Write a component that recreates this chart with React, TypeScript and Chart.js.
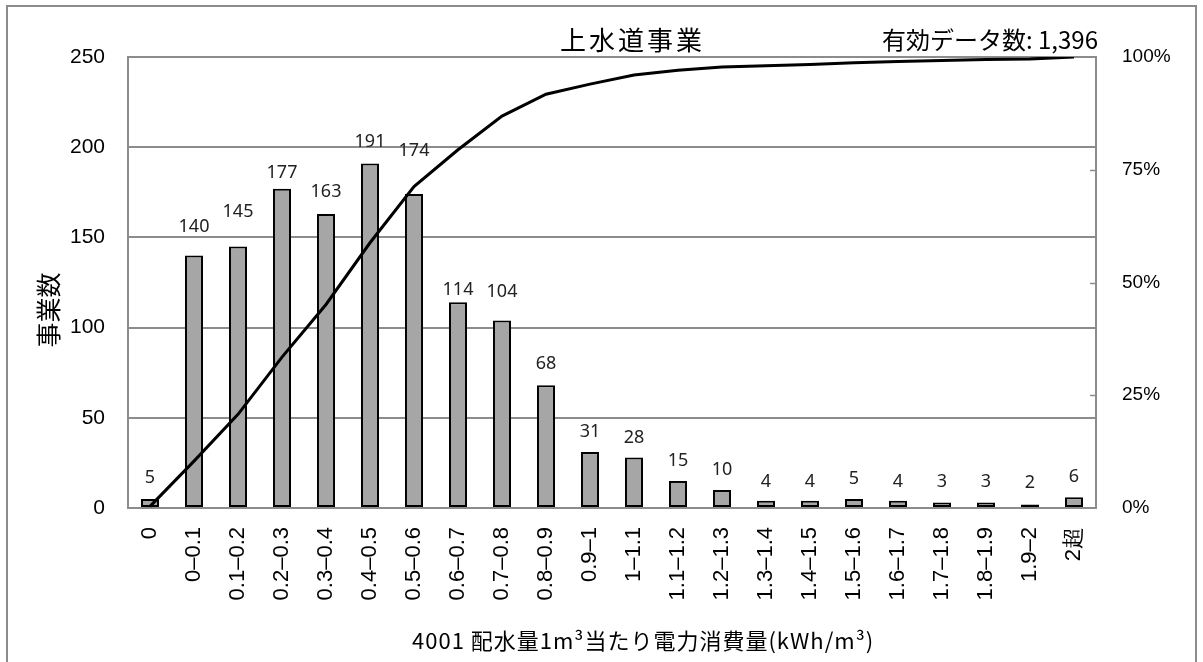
import React, { useEffect, useRef } from "react";
import { Chart, registerables } from "chart.js";

Chart.register(...registerables);

const categories = [
  "0", "0–0.1", "0.1–0.2", "0.2–0.3", "0.3–0.4", "0.4–0.5", "0.5–0.6", "0.6–0.7",
  "0.7–0.8", "0.8–0.9", "0.9–1", "1–1.1", "1.1–1.2", "1.2–1.3", "1.3–1.4", "1.4–1.5",
  "1.5–1.6", "1.6–1.7", "1.7–1.8", "1.8–1.9", "1.9–2", "2超",
];
const counts = [5, 140, 145, 177, 163, 191, 174, 114, 104, 68, 31, 28, 15, 10, 4, 4, 5, 4, 3, 3, 2, 6];
const cumulativePct = [
  0.36, 10.39, 20.77, 33.45, 45.13, 58.81, 71.28, 79.44, 86.89, 91.76, 93.98,
  95.99, 97.06, 97.78, 98.07, 98.35, 98.71, 99.0, 99.21, 99.43, 99.57, 100,
];
// where each count label sits, in left-axis units (labels were placed by hand in the source)
const labelAnchors = [16.6, 156, 164, 186, 175, 203, 198, 121, 120, 80, 42, 39, 26, 21, 14.4, 14.4, 16, 14.4, 14.4, 14.4, 13.9, 17];
const leftTicks = [0, 50, 100, 150, 200, 250];
const rightTicks = [0, 25, 50, 75, 100];

const chartTitle = "上水道事業";
const countTitle = "有効データ数: 1,396";
const yTitle = "事業数";
const xTitle = "4001 配水量1m³当たり電力消費量(kWh/m³)";

const CJK = '"Noto Sans CJK JP", "Noto Sans", sans-serif';
const SANS = '"Liberation Sans", Arial, sans-serif';

const decorPlugin = {
  id: "decor",
  beforeDraw(chart: any) {
    const { ctx, width, height } = chart;
    ctx.save();
    ctx.fillStyle = "#ffffff";
    ctx.fillRect(0, 0, width, height);
    ctx.strokeStyle = "#8c8c8c";
    ctx.lineWidth = 2;
    ctx.strokeRect(7, 6, 1189, height + 40);
    ctx.restore();
  },
  beforeDatasetsDraw(chart: any) {
    const { ctx, chartArea } = chart;
    const y1 = chart.scales.y1;
    ctx.save();
    ctx.strokeStyle = "#8c8c8c";
    ctx.lineWidth = 2;
    ctx.strokeRect(chartArea.left, chartArea.top, chartArea.right - chartArea.left, chartArea.bottom - chartArea.top);
    ctx.lineWidth = 1.5;
    for (const t of rightTicks) {
      if (t === 0 || t === 100) continue;
      const py = Math.round(y1.getPixelForValue(t)) + 0.5;
      ctx.beginPath();
      ctx.moveTo(chartArea.right - 6, py);
      ctx.lineTo(chartArea.right, py);
      ctx.stroke();
    }
    ctx.restore();
  },
  afterDatasetsDraw(chart: any) {
    const { ctx } = chart;
    const yScale = chart.scales.y;
    const meta = chart.getDatasetMeta(0);
    ctx.save();
    ctx.fillStyle = "#222";
    ctx.font = '18px "Noto Sans", "Open Sans", sans-serif';
    ctx.textAlign = "center";
    ctx.textBaseline = "middle";
    meta.data.forEach((el: any, i: number) => {
      ctx.fillText(String(counts[i]), el.x, yScale.getPixelForValue(labelAnchors[i]));
    });

    ctx.fillStyle = "#000";
    ctx.textAlign = "left";
    ctx.font = `26px ${CJK}`;
    (ctx as any).letterSpacing = "3px";
    ctx.fillText(chartTitle, 560, 40);
    (ctx as any).letterSpacing = "0px";
    ctx.font = `24px ${CJK}`;
    ctx.fillText(countTitle, 882, 40);

    ctx.font = `22px ${CJK}`;
    (ctx as any).letterSpacing = "1px";
    ctx.fillText(xTitle, 412, 641);
    (ctx as any).letterSpacing = "0px";

    ctx.translate(48, 310);
    ctx.rotate(-Math.PI / 2);
    ctx.textAlign = "center";
    ctx.font = `25px ${CJK}`;
    ctx.fillText(yTitle, 0, 0);
    ctx.restore();
  },
};

export default function App() {
  const ref = useRef<HTMLCanvasElement | null>(null);

  useEffect(() => {
    if (!ref.current) return;
    const chart = new Chart(ref.current, {
      type: "bar",
      data: {
        labels: categories,
        datasets: [
          {
            type: "bar",
            data: counts,
            backgroundColor: "#a6a6a6",
            borderColor: "#000000",
            borderWidth: 2,
            borderSkipped: false,
            barPercentage: 0.41,
            categoryPercentage: 1,
            yAxisID: "y",
            order: 2,
          },
          {
            type: "line",
            data: cumulativePct,
            borderColor: "#000000",
            borderWidth: 3,
            pointRadius: 0,
            tension: 0,
            fill: false,
            yAxisID: "y1",
            order: 1,
          },
        ] as any,
      },
      options: {
        responsive: false,
        animation: false,
        layout: { padding: { top: 57, left: 0, right: 0, bottom: 0 } },
        plugins: { legend: { display: false }, tooltip: { enabled: false } },
        scales: {
          x: {
            grid: { display: false, drawTicks: false },
            border: { display: false },
            ticks: {
              autoSkip: false,
              maxRotation: 90,
              minRotation: 90,
              padding: 19,
              color: "#000",
              font: { family: SANS, size: 22 },
            },
            afterFit(scale: any) {
              scale.height = 154;
            },
          },
          y: {
            position: "left",
            min: 0,
            max: 250,
            afterBuildTicks(scale: any) {
              scale.ticks = leftTicks.map((v) => ({ value: v }));
            },
            grid: { color: "#8c8c8c", lineWidth: 2, drawTicks: false },
            border: { display: false },
            ticks: {
              padding: 23,
              color: "#000",
              font: { family: SANS, size: 21 },
            },
            afterFit(scale: any) {
              scale.width = 128;
            },
          },
          y1: {
            position: "right",
            min: 0,
            max: 100,
            afterBuildTicks(scale: any) {
              scale.ticks = rightTicks.map((v) => ({ value: v }));
            },
            grid: { drawOnChartArea: false, drawTicks: false },
            border: { display: false },
            ticks: {
              padding: 26,
              color: "#000",
              font: { family: SANS, size: 19 },
              callback: (v: any) => `${v}%`,
            },
            afterFit(scale: any) {
              scale.width = 107;
            },
          },
        },
      },
      plugins: [decorPlugin],
    });
    return () => chart.destroy();
  }, []);

  return (
    <div style={{ position: "absolute", left: 0, top: 0, width: 1203, height: 662, background: "#fff" }}>
      <canvas ref={ref} width={1203} height={662} style={{ display: "block" }} />
    </div>
  );
}
